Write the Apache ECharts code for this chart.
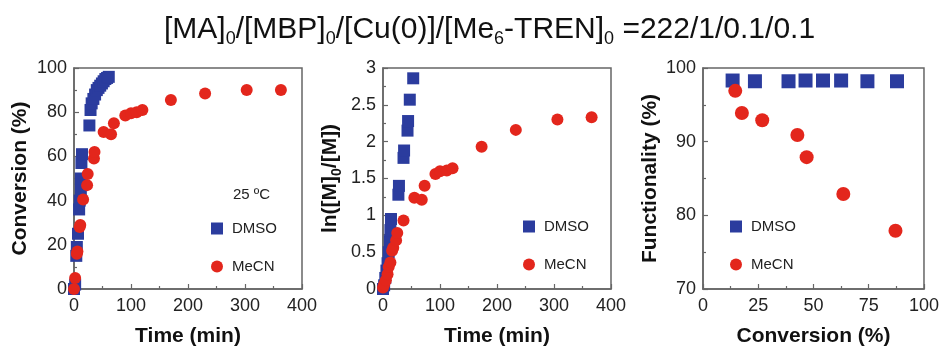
<!DOCTYPE html>
<html><head><meta charset="utf-8">
<script src="https://cdn.jsdelivr.net/npm/echarts@6/dist/echarts.min.js"></script>
<style>html,body{margin:0;padding:0;background:#fff}#c{width:942px;height:352px}</style>
</head><body><div id="c"></div>
<script>
const FONT = 'Liberation Sans, Arial, sans-serif';

// Panel 1: Conversion (%) vs time (min)
const p1DmsoTime = [0, 2, 4, 5, 7, 9, 10, 12, 12, 13, 14, 27, 29, 31, 34, 37, 40, 43, 46, 49, 52, 55, 58, 61];
const p1DmsoConv = [0, 2, 15, 19, 25, 36, 40, 45, 50, 57, 61, 74, 81, 84, 86, 88, 90, 91, 92, 93, 94, 95, 95.5, 96];
const p1MecnTime = [0, 2, 5, 6, 10, 11, 16, 23, 24, 35, 36, 52, 65, 70, 90, 100, 110, 120, 170, 230, 303, 363];
const p1MecnConv = [0, 5, 16, 17, 28, 29, 40.5, 47, 52, 59, 62, 71, 70, 75, 78.5, 79.5, 80, 81, 85.5, 88.5, 90, 90];

// Panel 2: ln([M]0/[M]) vs time (min)
const p2DmsoTime = [0, 2, 4, 6, 8, 10, 12, 13, 14, 27, 28, 36, 37, 43, 44, 47, 53];
const p2DmsoLn = [0, 0.05, 0.15, 0.25, 0.35, 0.5, 0.65, 0.8, 0.95, 1.28, 1.4, 1.78, 1.88, 2.15, 2.28, 2.57, 2.86];
const p2MecnTime = [0, 2, 5, 8, 10, 13, 16, 18, 23, 25, 36, 55, 68, 73, 92, 100, 112, 122, 173, 233, 306, 366];
const p2MecnLn = [0.02, 0.06, 0.12, 0.2, 0.3, 0.36, 0.52, 0.56, 0.66, 0.76, 0.93, 1.24, 1.21, 1.40, 1.56, 1.60, 1.61, 1.64, 1.93, 2.16, 2.30, 2.33];

// Panel 3: Functionality (%) vs conversion (%)
const p3DmsoConv = [13.4, 23.5, 38.7, 46.4, 54.3, 62.5, 74.4, 87.8];
const p3DmsoFunc = [98.3, 98.2, 98.2, 98.3, 98.3, 98.3, 98.2, 98.2];
const p3MecnConv = [14.6, 17.6, 26.8, 42.7, 46.9, 63.5, 87.1];
const p3MecnFunc = [96.9, 93.9, 92.9, 90.9, 87.9, 82.9, 77.9];

const seriesNames = ['DMSO', 'MeCN'];
const axisColor = '#666';
const blue = '#2b3c9e';
const red = '#e3261c';

function zip(a, b) { return a.map((v, i) => [v, b[i]]); }

function axis(gridIndex, min, max, interval, name, nameGap, labelMargin) {
  return {
    type: 'value', gridIndex, min, max, interval, name,
    nameLocation: 'middle', nameGap,
    nameTextStyle: { fontSize: 21, fontWeight: 'bold', color: '#111', fontFamily: FONT,
      rich: { s: { fontSize: 14, fontWeight: 'bold', color: '#111', fontFamily: FONT, padding: [14, 0, 0, 0] } } },
    axisLine: { show: true, onZero: false, lineStyle: { color: axisColor, width: 1.5 } },
    axisTick: { show: true, inside: true, length: 5, lineStyle: { color: axisColor, width: 1.2 } },
    minorTick: { show: true, splitNumber: 2, length: 3, lineStyle: { color: axisColor, width: 1.2 } },
    splitLine: { show: false },
    axisLabel: { fontSize: 18, color: '#222', margin: labelMargin, fontFamily: FONT }
  };
}

function sc(name, xi, data, size) {
  const isD = name === 'DMSO';
  return {
    type: 'scatter', name, xAxisIndex: xi, yAxisIndex: xi, data,
    symbol: isD ? 'rect' : 'circle', symbolSize: size, clip: false,
    itemStyle: { color: isD ? blue : red, opacity: 1 }, z: 5
  };
}

function legend(left, top) {
  return {
    left, top, orient: 'vertical', itemWidth: 12, itemHeight: 12, itemGap: 23,
    data: [{ name: 'DMSO', icon: 'rect' }, { name: 'MeCN', icon: 'circle' }],
    textStyle: { fontSize: 15, color: '#222', fontFamily: FONT, padding: [0, 0, 0, 4] },
    selectedMode: false
  };
}

const chart = echarts.init(document.getElementById('c'), null, { renderer: 'canvas' });
const gridBase = { top: 68, height: 224, show: true, borderColor: axisColor, borderWidth: 1.5, backgroundColor: 'transparent' };
chart.setOption({
  animation: false,
  backgroundColor: '#fff',
  title: [
    { text: '[MA]{s|0}/[MBP]{s|0}/[Cu(0)]/[Me{s|6}-TREN]{s|0} =222/1/0.1/0.1', left: 159, top: 7,
      textStyle: { fontSize: 30, fontWeight: 'normal', color: '#111', fontFamily: FONT,
        rich: { s: { fontSize: 18, color: '#111', fontFamily: FONT, padding: [18, 0, 0, 0] } } } },
    { text: '25 ºC', left: 228, top: 182, textStyle: { fontSize: 15, fontWeight: 'normal', color: '#222', fontFamily: FONT } }
  ],
  grid: [
    Object.assign({ left: 74, width: 228 }, gridBase),
    Object.assign({ left: 383, width: 228 }, gridBase),
    Object.assign({ left: 703, width: 224 }, gridBase)
  ],
  xAxis: [
    axis(0, 0, 400, 100, 'Time (min)', 37, 8),
    axis(1, 0, 400, 100, 'Time (min)', 37, 8),
    axis(2, 0, 100, 25, 'Conversion (%)', 37, 8)
  ],
  yAxis: [
    axis(0, 0, 100, 20, 'Conversion (%)', 43, 7),
    axis(1, 0, 3, 0.5, 'ln([M]{s|0}/[M])', 39, 7),
    axis(2, 70, 100, 10, 'Functionality (%)', 42, 7)
  ],
  legend: [legend(206, 216), legend(518, 214), legend(725, 214)],
  series: [
    sc(seriesNames[0], 0, zip(p1DmsoTime, p1DmsoConv), 12),
    sc(seriesNames[1], 0, zip(p1MecnTime, p1MecnConv), 12),
    sc(seriesNames[0], 1, zip(p2DmsoTime, p2DmsoLn), 12),
    sc(seriesNames[1], 1, zip(p2MecnTime, p2MecnLn), 12),
    sc(seriesNames[0], 2, zip(p3DmsoConv, p3DmsoFunc), 14),
    sc(seriesNames[1], 2, zip(p3MecnConv, p3MecnFunc), 14)
  ]
});
</script></body></html>
